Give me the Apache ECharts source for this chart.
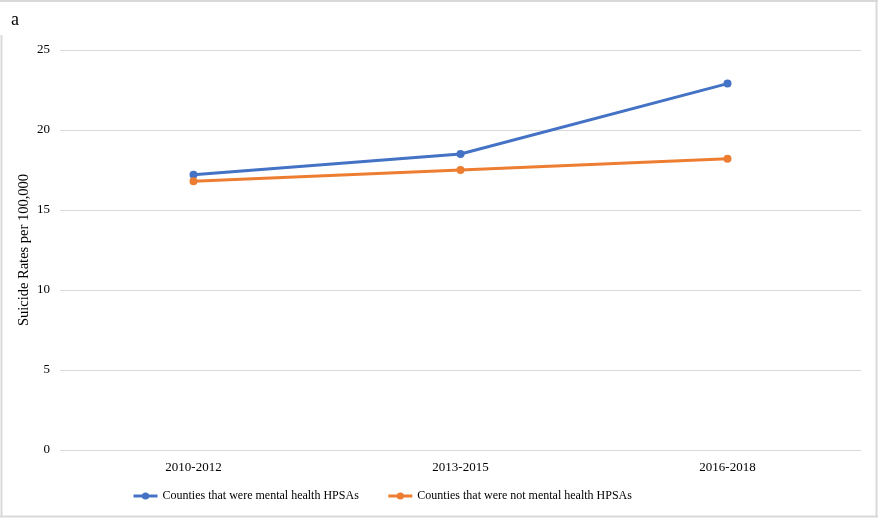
<!DOCTYPE html>
<html><head><meta charset="utf-8">
<script src="https://cdn.jsdelivr.net/npm/echarts@6/dist/echarts.min.js"></script>
<style>html,body{margin:0;padding:0;background:#fff}#c{width:878px;height:520px}</style>
</head><body><div id="c"></div>
<script>
const categories = ['2010-2012', '2013-2015', '2016-2018'];
const hpsaValues = [17.2, 18.5, 22.9];
const nonHpsaValues = [16.8, 17.5, 18.2];
const seriesNames = ['Counties that were mental health HPSAs', 'Counties that were not mental health HPSAs'];
const yTicks = [0, 5, 10, 15, 20, 25];

const font = '"Liberation Serif", "Times New Roman", serif';
const chart = echarts.init(document.getElementById('c'), null, {renderer: 'canvas'});
chart.setOption({
  animation: false,
  backgroundColor: '#fff',
  textStyle: {fontFamily: font, color: '#000'},
  graphic: [
    {type: 'line', shape: {x1: 0, y1: 1, x2: 878, y2: 1}, style: {stroke: '#d9d9d9', lineWidth: 2}},
    {type: 'line', shape: {x1: 1.5, y1: 35, x2: 1.5, y2: 517}, style: {stroke: '#d9d9d9', lineWidth: 2}},
    {type: 'line', shape: {x1: 876.5, y1: 0, x2: 876.5, y2: 517}, style: {stroke: '#d9d9d9', lineWidth: 2}},
    {type: 'line', shape: {x1: 0, y1: 516.5, x2: 878, y2: 516.5}, style: {stroke: '#d9d9d9', lineWidth: 2}},
    {type: 'text', left: 11, top: 11, style: {text: 'a', font: '18px ' + font, fill: '#000'}}
  ],
  grid: {left: 60, right: 17, top: 50, bottom: 70, containLabel: false},
  legend: {
    bottom: 13, left: 127, itemGap: 28, itemWidth: 24, itemHeight: 9,
    lineStyle: {width: 3},
    textStyle: {fontFamily: font, fontSize: 12, color: '#000'},
    data: seriesNames
  },
  xAxis: {
    type: 'category', data: categories, boundaryGap: true,
    axisLine: {show: false}, axisTick: {show: false},
    axisLabel: {fontFamily: font, fontSize: 13, color: '#000', margin: 11}
  },
  yAxis: {
    type: 'value', min: yTicks[0], max: yTicks[yTicks.length - 1], interval: 5,
    name: 'Suicide Rates per 100,000', nameLocation: 'middle', nameGap: 28, nameRotate: 90,
    nameMoveOverlap: false,
    nameTextStyle: {fontFamily: font, fontSize: 14.5, color: '#000'},
    axisLine: {show: false}, axisTick: {show: false},
    axisLabel: {fontFamily: font, fontSize: 13, color: '#000', margin: 10},
    splitLine: {lineStyle: {color: '#d9d9d9', width: 1}}
  },
  series: [
    {name: seriesNames[0], type: 'line', data: hpsaValues, color: '#4472C4',
     symbol: 'circle', symbolSize: 8, lineStyle: {width: 3}, itemStyle: {color: '#4472C4'}},
    {name: seriesNames[1], type: 'line', data: nonHpsaValues, color: '#ED7D31',
     symbol: 'circle', symbolSize: 8, lineStyle: {width: 3}, itemStyle: {color: '#ED7D31'}}
  ]
});
</script></body></html>
